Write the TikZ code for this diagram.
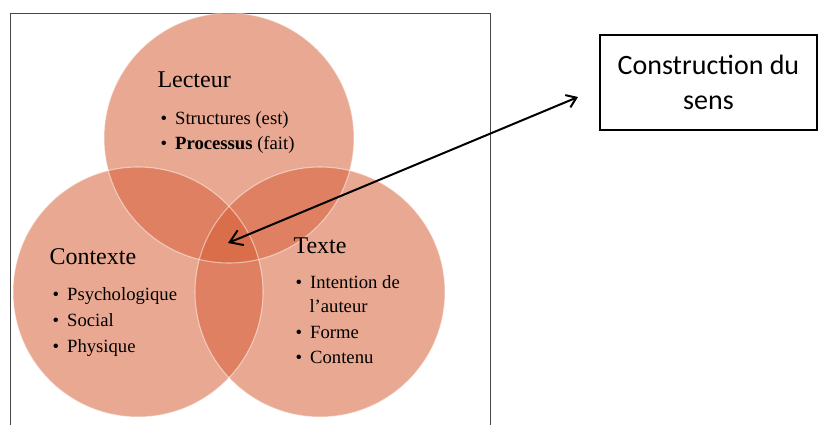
\documentclass[tikz,border=0pt]{standalone}
\usepackage{fontspec}
\setmainfont{Liberation Serif}
\newfontfamily\boxfont{Carlito}
\usetikzlibrary{arrows.meta}

\tikzset{every picture/.style={line width=0.75pt}}
\tikzset{
	venn/.style={fill={rgb, 255:red, 214; green, 96; blue, 56 }, fill opacity=0.55, draw=none},
	vennedge/.style={draw=white, draw opacity=0.5, line width=0.8pt},
	titre/.style={anchor=base west, inner sep=0pt, font=\fontsize{18}{22}\selectfont},
	puce/.style={anchor=base west, inner sep=0pt, font=\fontsize{14}{17}\selectfont},
	fleche/.style={line width=1.5pt, {Straight Barb[length=9pt,width=12pt]}-{Straight Barb[length=7pt,width=10pt]}},
}
\newcommand{\bul}{\makebox[11pt][l]{\textbullet}}

\begin{document}
\begin{tikzpicture}[x=0.75pt,y=0.75pt,yscale=-1,xscale=1]
		\useasboundingbox (0,0) rectangle (820,425);
		
		%Shape: Frame [id:dp_cadre] 
		\draw [color={rgb, 255:red, 70; green, 70; blue, 70 }] (10,425) -- (10,13) -- (490,13) -- (490,425) ;
		
		%Shape: Circle [id:dp_lecteur] 
		\path [venn] (229,138) circle (125) ;
		%Shape: Circle [id:dp_contexte] 
		\path [venn] (138,292) circle (125) ;
		%Shape: Circle [id:dp_texte] 
		\path [venn] (320,292) circle (125) ;
		
		%Circle edges
		\draw [vennedge] (229,138) circle (125) ;
		\draw [vennedge] (138,292) circle (125) ;
		\draw [vennedge] (320,292) circle (125) ;
		
		% Text Node
		\node [titre] (lecteur) at (157,87) {Lecteur};
		% Text Node
		\node [puce] (structures) at (160,124) {\bul Structures (est)};
		% Text Node
		\node [puce] (processus) at (160,149) {\bul\textbf{Processus} (fait)};
		
		% Text Node
		\node [titre] (contexte) at (49,264) {Contexte};
		% Text Node
		\node [puce] (psycho) at (52,300) {\bul Psychologique};
		% Text Node
		\node [puce] (social) at (52,326) {\bul Social};
		% Text Node
		\node [puce] (physique) at (52,352) {\bul Physique};
		
		% Text Node
		\node [titre] (texte) at (293,253) {Texte};
		% Text Node
		\node [puce] (intention) at (295,288) {\bul Intention de};
		% Text Node
		\node [puce] (auteur) at (309,312) {l’auteur};
		% Text Node
		\node [puce] (forme) at (295,338) {\bul Forme};
		% Text Node
		\node [puce] (contenu) at (295,363) {\bul Contenu};
		
		%Shape: Rectangle [id:dp_sens] 
		\node [draw, line width=1pt, minimum width=162.75pt, minimum height=71.25pt, align=center, font=\boxfont\fontsize{21}{26}\selectfont] (sens) at (708.5,82.5) {Construction du\\sens};
		
		%Straight Lines [id:da_fleche] 
		\coordinate (coeur) at (228,243);
		\coordinate (pointe) at (578,97);
		\draw [fleche] (coeur) -- (pointe) ;
		
\end{tikzpicture}
\end{document}
